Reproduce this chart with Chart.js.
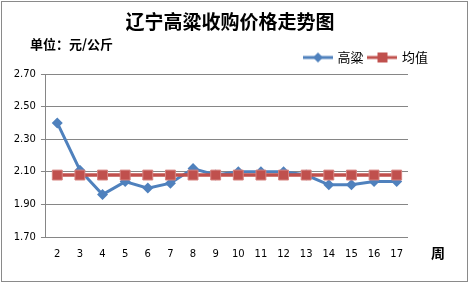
<!DOCTYPE html>
<html><head><meta charset="utf-8">
<script src="https://cdn.jsdelivr.net/npm/chart.js@4/dist/chart.umd.min.js"></script>
<style>html,body{margin:0;padding:0;background:#fff}#wrap{width:470px;height:284px;position:relative}</style>
</head><body><div id="wrap"><canvas id="c" width="470" height="284"></canvas></div>
<script>
const weeks = ['2','3','4','5','6','7','8','9','10','11','12','13','14','15','16','17'];
const sorghum = [2.40,2.11,1.96,2.04,2.00,2.03,2.12,2.08,2.10,2.10,2.10,2.08,2.02,2.02,2.04,2.04];
const average = [2.08,2.08,2.08,2.08,2.08,2.08,2.08,2.08,2.08,2.08,2.08,2.08,2.08,2.08,2.08,2.08];
const seriesNames = ['高粱','均值'];
const titleText = '辽宁高粱收购价格走势图';
const unitText = '单位：元/公斤';
const xUnit = '周';

const BLUE = '#4F81BD', RED = '#C0504D';
function legendIcon(color, kind){
  const c = document.createElement('canvas'); c.width = 30; c.height = 12;
  const g = c.getContext('2d');
  g.strokeStyle = color; g.lineWidth = 3; g.beginPath(); g.moveTo(0,6); g.lineTo(30,6); g.stroke();
  g.fillStyle = color;
  if(kind==='d'){ g.beginPath(); g.moveTo(15,1); g.lineTo(20,6); g.lineTo(15,11); g.lineTo(10,6); g.closePath(); g.fill(); }
  else { g.fillRect(10,1,10,10); }
  return c;
}
const icons = [legendIcon(BLUE,'d'), legendIcon(RED,'s')];

const deco = {
  id:'deco',
  afterDraw(chart){
    const ctx = chart.ctx; ctx.save();
    ctx.strokeStyle = '#8a8a8a'; ctx.lineWidth = 1; ctx.strokeRect(1.5,1.5,466,280);
    ctx.fillStyle = '#000'; ctx.textBaseline = 'middle';
    ctx.textAlign = 'center';
    ctx.font = 'bold 19px "Noto Sans CJK SC"'; ctx.fillText(titleText, 230, 22);
    ctx.textAlign = 'left';
    ctx.font = 'bold 13px "Noto Sans CJK SC"'; ctx.fillText(unitText, 30, 44);
    ctx.font = 'bold 14px "Noto Sans CJK SC"'; ctx.fillText(xUnit, 431, 253);
    ctx.restore();
  }
};

new Chart(document.getElementById('c'), {
  type:'line',
  data:{ labels: weeks, datasets:[
    { label: seriesNames[0], data: sorghum, borderColor: BLUE, backgroundColor: BLUE, borderWidth: 3,
      pointStyle:'rectRot', pointRadius:5.5, pointBorderWidth:0, pointBackgroundColor: BLUE, order:1, tension:0 },
    { label: seriesNames[1], data: average, borderColor: RED, backgroundColor: RED, borderWidth: 3.5,
      pointStyle:'rect', pointRadius:7, pointBorderWidth:1, pointBorderColor:'#d6827f', pointBackgroundColor: RED, order:0, tension:0 }
  ]},
  options:{
    responsive:false, animation:false, devicePixelRatio:1,
    layout:{ padding:{ left:8.7, right:36, top:45, bottom:13 } },
    plugins:{
      tooltip:{enabled:false},
      title:{ display:false },
      legend:{ position:'top', align:'end',
        labels:{ usePointStyle:true, pointStyleWidth:26, padding:6, color:'#000',
          font:{family:'"Noto Sans CJK SC"', size:13},
          sort:(a,b)=>a.datasetIndex-b.datasetIndex,
          generateLabels(chart){
            const items = Chart.defaults.plugins.legend.labels.generateLabels(chart);
            items.forEach(it=>{ it.pointStyle = icons[it.datasetIndex]; });
            return items;
          } } }
    },
    scales:{
      x:{ offset:true, grid:{display:false, drawTicks:false}, border:{display:false},
          ticks:{ padding:11, color:'#000', font:{family:'"DejaVu Sans"', size:10}, maxRotation:0, autoSkip:false } },
      y:{ min:1.7, max:2.7,
          grid:{ color:'#868686', tickLength:5, lineWidth:1 }, border:{ color:'#868686' },
          ticks:{ stepSize:0.2, padding:5, color:'#000', font:{family:'"DejaVu Sans"', size:10}, callback:v=>Number(v).toFixed(2) } },
      y2:{ position:'right', display:true, afterFit(s){ s.width = 26; },
           grid:{display:false, drawTicks:false}, border:{display:false}, ticks:{display:false} }
    }
  },
  plugins:[deco]
});
</script></body></html>
